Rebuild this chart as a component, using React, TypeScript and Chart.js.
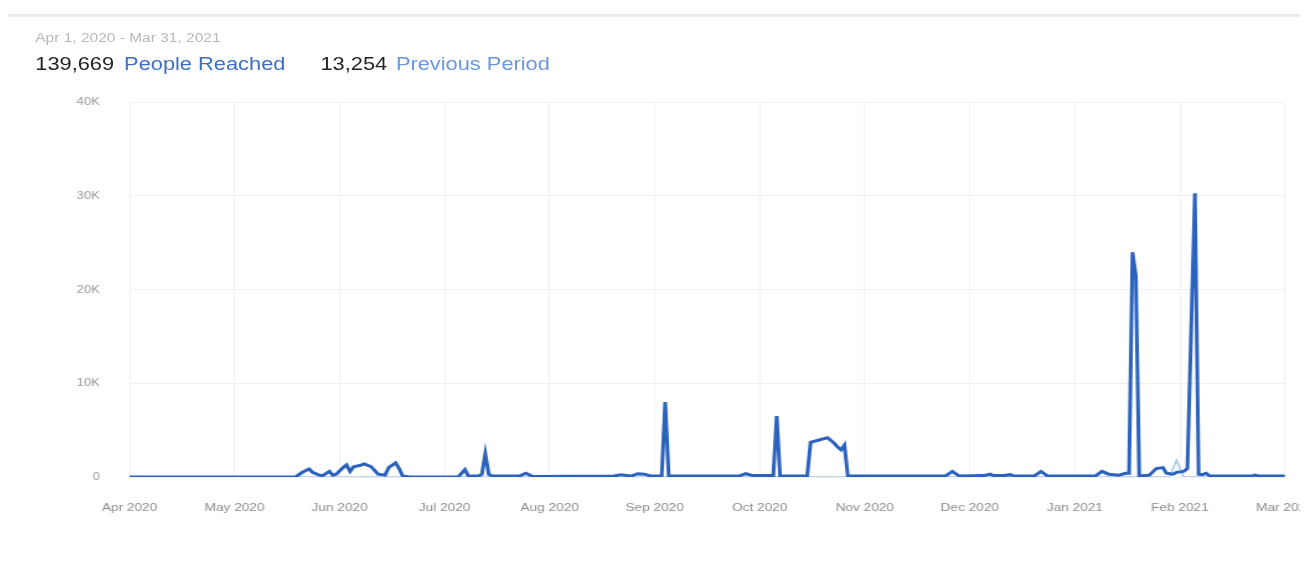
import React, { useEffect, useRef } from "react";
import { Chart, registerables } from "chart.js";

Chart.register(...registerables);

const FONT = '"Liberation Sans", Arial, Helvetica, sans-serif';
const STRETCH = 1.24;

const monthLabels = [
  "Apr 2020", "May 2020", "Jun 2020", "Jul 2020", "Aug 2020", "Sep 2020",
  "Oct 2020", "Nov 2020", "Dec 2020", "Jan 2021", "Feb 2021", "Mar 2021",
];

const reachedDates = [
  "2020-04-01", "2020-05-19", "2020-05-21", "2020-05-23", "2020-05-24", "2020-05-26",
  "2020-05-27", "2020-05-29", "2020-05-30", "2020-05-31", "2020-06-02", "2020-06-03",
  "2020-06-04", "2020-06-05", "2020-06-07", "2020-06-08", "2020-06-10", "2020-06-11",
  "2020-06-12", "2020-06-14", "2020-06-15", "2020-06-17", "2020-06-18", "2020-06-19",
  "2020-06-21", "2020-07-05", "2020-07-07", "2020-07-08", "2020-07-11", "2020-07-12",
  "2020-07-13", "2020-07-14", "2020-07-15", "2020-07-23", "2020-07-25", "2020-07-27",
  "2020-08-20", "2020-08-22", "2020-08-25", "2020-08-27", "2020-08-29", "2020-08-31",
  "2020-09-03", "2020-09-04", "2020-09-05", "2020-09-25", "2020-09-27", "2020-09-29",
  "2020-10-05", "2020-10-06", "2020-10-07", "2020-10-15", "2020-10-16", "2020-10-17",
  "2020-10-18", "2020-10-19", "2020-10-20", "2020-10-21", "2020-10-22", "2020-10-23",
  "2020-10-24", "2020-10-25", "2020-10-26", "2020-10-27", "2020-11-24", "2020-11-26",
  "2020-11-28", "2020-12-05", "2020-12-07", "2020-12-08", "2020-12-11", "2020-12-13",
  "2020-12-14", "2020-12-20", "2020-12-22", "2020-12-24", "2021-01-07", "2021-01-09",
  "2021-01-11", "2021-01-14", "2021-01-16", "2021-01-17", "2021-01-18", "2021-01-19",
  "2021-01-20", "2021-01-23", "2021-01-25", "2021-01-27", "2021-01-28", "2021-01-30",
  "2021-01-31", "2021-02-02", "2021-02-03", "2021-02-05", "2021-02-06", "2021-02-07",
  "2021-02-08", "2021-02-09", "2021-02-20", "2021-02-21", "2021-02-22", "2021-03-01",
];

const reachedValues = [
  0, 0, 500, 850, 500, 200,
  150, 600, 200, 300, 1000, 1300,
  600, 1100, 1250, 1400, 1100, 700,
  300, 200, 1000, 1500, 900, 100,
  0, 0, 800, 100, 100, 300,
  2500, 300, 100, 100, 400, 50,
  100, 250, 100, 350, 300, 100,
  100, 8000, 100, 100, 350, 150,
  150, 6500, 100, 100, 3700, 3800,
  3900, 4000, 4100, 4200, 3900, 3600,
  3200, 2900, 3400, 100, 100, 600,
  100, 150, 300, 150, 150, 250,
  100, 100, 600, 100, 100, 600,
  300, 200, 400, 400, 24000, 21500,
  100, 200, 900, 1000, 400, 300,
  500, 600, 900, 30300, 300, 250,
  400, 100, 100, 200, 100, 100,
];

const previousDates = ["2020-04-01", "2021-01-29", "2021-01-31", "2021-02-02", "2021-03-01"];
const previousValues = [0, 0, 1800, 0, 0];

function dateToAxis(s: string): number {
  const [y, m, d] = s.split("-").map(Number);
  const idx = (y - 2020) * 12 + (m - 1) - 3;
  const dim = new Date(y, m, 0).getDate();
  return idx + (d - 1) / dim;
}

export default function App() {
  const canvasRef = useRef<HTMLCanvasElement | null>(null);

  useEffect(() => {
    if (!canvasRef.current) return;
    const grid = "#f0f0f0";
    const chart = new Chart(canvasRef.current, {
      type: "line",
      data: {
        datasets: [
          {
            label: "Previous Period",
            data: previousDates.map((d, i) => ({ x: dateToAxis(d), y: previousValues[i] })),
            borderColor: "#aac5ec",
            borderWidth: 1.5,
            pointRadius: 0,
            tension: 0,
            order: 2,
          },
          {
            label: "People Reached",
            data: reachedDates.map((d, i) => ({ x: dateToAxis(d), y: reachedValues[i] })),
            borderColor: "#2a62bd",
            borderWidth: 3,
            pointRadius: 0,
            tension: 0,
            order: 1,
          },
        ],
      },
      options: {
        animation: false,
        responsive: true,
        maintainAspectRatio: false,
        layout: { padding: 0 },
        plugins: { legend: { display: false }, tooltip: { enabled: false } },
        scales: {
          x: {
            type: "linear",
            min: 0,
            max: 11,
            grid: { color: grid, drawTicks: false },
            border: { display: false },
            ticks: {
              stepSize: 1,
              autoSkip: false,
              maxRotation: 0,
              padding: 24,
              color: "#8c8c8c",
              font: { family: FONT, size: 11 },
              callback: (v: any) => monthLabels[Number(v)] ?? "",
            },
            afterFit: (s: any) => {
              s.height = 55;
            },
          },
          y: {
            min: 0,
            max: 40000,
            grid: { color: grid, drawTicks: false },
            border: { display: false },
            ticks: {
              stepSize: 10000,
              padding: 24,
              color: "#999999",
              font: { family: FONT, size: 10.5 },
              callback: (v: any) => (Number(v) === 0 ? "0" : Number(v) / 1000 + "K"),
            },
            afterFit: (s: any) => {
              s.width = 98;
            },
          },
        },
      },
    } as any);
    return () => chart.destroy();
  }, []);

  return (
    <div style={{ position: "relative", width: 1300, height: 572, overflow: "hidden" }}>
      <div
        style={{
          position: "absolute",
          left: 0,
          top: 0,
          width: 1300 / STRETCH,
          height: 572,
          transform: `scaleX(${STRETCH})`,
          transformOrigin: "0 0",
          fontFamily: FONT,
        }}
      >
        <div style={{ position: "absolute", left: 0, top: 6, width: 1300 / STRETCH, height: 3, background: "#ebebeb" }} />
        <div
          style={{
            position: "absolute",
            left: 22,
            top: 23,
            fontSize: 12.5,
            lineHeight: "14px",
            color: "#b8b8b8",
            whiteSpace: "nowrap",
          }}
        >
          Apr 1, 2020 - Mar 31, 2021
        </div>
        <div
          style={{
            position: "absolute",
            left: 22,
            top: 46,
            fontSize: 17.6,
            lineHeight: "20px",
            whiteSpace: "nowrap",
          }}
        >
          <span style={{ color: "#1f2124" }}>139,669</span>
          <span style={{ color: "#3f6fc2", marginLeft: 8 }}>People Reached</span>
        </div>
        <div
          style={{
            position: "absolute",
            left: 252,
            top: 46,
            fontSize: 17.6,
            lineHeight: "20px",
            whiteSpace: "nowrap",
          }}
        >
          <span style={{ color: "#1f2124" }}>13,254</span>
          <span style={{ color: "#6b97dc", marginLeft: 7 }}>Previous Period</span>
        </div>
        <div style={{ position: "absolute", left: 0, top: 64, width: 1077, height: 460 }}>
          <canvas ref={canvasRef} />
        </div>
      </div>
    </div>
  );
}
